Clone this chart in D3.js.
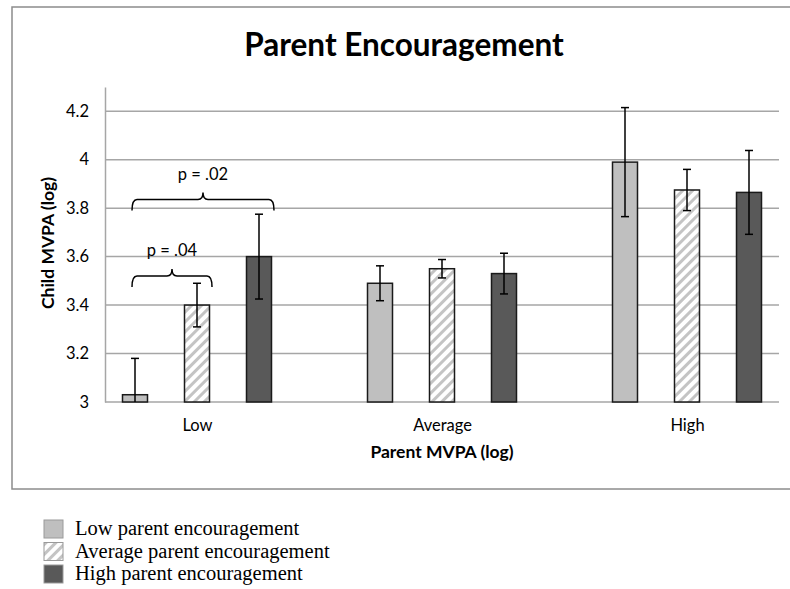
<!DOCTYPE html>
<html>
<head>
<meta charset="utf-8">
<script src="https://cdn.jsdelivr.net/npm/d3@7"></script>
<style>
  body { margin: 0; background: #fff; }
  svg { display: block; }
</style>
</head>
<body>
<svg id="chart" width="790" height="589"></svg>
<script>
// Parent MVPA groups on the x axis
const categories = ['Low', 'Average', 'High'];
// parent encouragement series
const series = ['Low parent encouragement', 'Average parent encouragement', 'High parent encouragement'];
// bar heights (child MVPA, log), one row per series, one entry per category
const means = [
  [3.03, 3.49, 3.99],
  [3.40, 3.55, 3.875],
  [3.60, 3.53, 3.865]
];
// error bar half-widths
const errors = [
  [0.15, 0.072, 0.225],
  [0.09, 0.038, 0.085],
  [0.175, 0.084, 0.173]
];
const yTicks = [3, 3.2, 3.4, 3.6, 3.8, 4, 4.2];
// significance brackets inside the Low group: from series index, to series index, bracket level
const brackets = [
  { from: 0, to: 2, level: 3.79, label: 'p = .02' },
  { from: 0, to: 1, level: 3.475, label: 'p = .04' }
];

const svg = d3.select('#chart');
const fillColors = ['#bfbfbf', 'url(#hatch)', '#595959'];
const sans = 'Lato, "Open Sans", sans-serif';

// hatch for the average series
const defs = svg.append('defs');
const hatch = defs.append('pattern')
  .attr('id', 'hatch')
  .attr('patternUnits', 'userSpaceOnUse')
  .attr('width', 7)
  .attr('height', 7)
  .attr('patternTransform', 'rotate(45)');
hatch.append('rect').attr('width', 7).attr('height', 7).attr('fill', '#fff');
hatch.append('rect').attr('width', 3).attr('height', 7).attr('fill', '#c4c4c4');

// outer chart frame (runs off the right side of the picture)
svg.append('rect')
  .attr('x', 12).attr('y', 7)
  .attr('width', 800).attr('height', 482)
  .attr('fill', 'none')
  .attr('stroke', '#8c8c8c')
  .attr('stroke-width', 1.5);

const plot = { left: 105, right: 779, top: 87, bottom: 402 };

const y = d3.scaleLinear().domain([3, 4.3]).range([plot.bottom, plot.top]);
const x = d3.scalePoint().domain(categories).range([197, 687]);
const xs = d3.scalePoint().domain(d3.range(series.length)).range([-62, 62]);
const barW = 25;

// title
svg.append('text')
  .attr('x', 404).attr('y', 56)
  .attr('text-anchor', 'middle')
  .attr('font-family', sans)
  .attr('font-weight', 'bold')
  .attr('font-size', 31.5)
  .text('Parent Encouragement');

// gridlines
svg.append('g')
  .selectAll('line')
  .data(yTicks)
  .join('line')
  .attr('x1', plot.left).attr('x2', plot.right)
  .attr('y1', d => y(d)).attr('y2', d => y(d))
  .attr('stroke', '#a6a6a6')
  .attr('stroke-width', 1.5);

// y axis
const yAxis = svg.append('g')
  .attr('transform', `translate(${plot.left},0)`)
  .call(d3.axisLeft(y).tickValues(yTicks).tickSize(0).tickPadding(16).tickFormat(d3.format('')));
yAxis.select('.domain').attr('stroke', '#a6a6a6').attr('stroke-width', 1.5);
yAxis.selectAll('text')
  .attr('font-family', sans)
  .attr('font-size', 16.5)
  .attr('fill', '#000');

svg.append('text')
  .attr('transform', 'translate(54,243) rotate(-90)')
  .attr('text-anchor', 'middle')
  .attr('font-family', sans)
  .attr('font-weight', 'bold')
  .attr('font-size', 17.5)
  .text('Child MVPA (log)');

// x labels
const xAxis = svg.append('g')
  .attr('transform', `translate(0,${plot.bottom})`)
  .call(d3.axisBottom(x).tickSize(0).tickPadding(17));
xAxis.select('.domain').remove();
xAxis.selectAll('text')
  .attr('font-family', sans)
  .attr('font-size', 16.5)
  .attr('fill', '#000');

svg.append('text')
  .attr('x', 442).attr('y', 458)
  .attr('text-anchor', 'middle')
  .attr('font-family', sans)
  .attr('font-weight', 'bold')
  .attr('font-size', 17.5)
  .text('Parent MVPA (log)');

// bars + error bars
const cells = [];
series.forEach((s, si) => {
  categories.forEach((c, ci) => {
    cells.push({ si, c, v: means[si][ci], e: errors[si][ci] });
  });
});

const clip = defs.append('clipPath').attr('id', 'plotClip');
clip.append('rect')
  .attr('x', plot.left).attr('y', 0)
  .attr('width', plot.right - plot.left).attr('height', plot.bottom);

const barsG = svg.append('g');
barsG.selectAll('rect')
  .data(cells)
  .join('rect')
  .attr('x', d => x(d.c) + xs(d.si) - barW / 2)
  .attr('y', d => y(d.v))
  .attr('width', barW)
  .attr('height', d => y(3) - y(d.v))
  .attr('fill', d => fillColors[d.si])
  .attr('stroke', '#1a1a1a')
  .attr('stroke-width', 1.5);

const errG = svg.append('g').attr('clip-path', 'url(#plotClip)')
  .attr('stroke', '#000').attr('stroke-width', 1.5);
cells.forEach(d => {
  const cx = x(d.c) + xs(d.si);
  const top = y(d.v + d.e), bot = y(d.v - d.e);
  errG.append('line').attr('x1', cx).attr('x2', cx).attr('y1', top).attr('y2', bot);
  errG.append('line').attr('x1', cx - 4).attr('x2', cx + 4).attr('y1', top).attr('y2', top);
  errG.append('line').attr('x1', cx - 4).attr('x2', cx + 4).attr('y1', bot).attr('y2', bot);
});

// curly brackets
function bracePath(x1, x2, yb) {
  const yh = yb - 11, yp = yb - 18, xm = (x1 + x2) / 2, r = 5;
  return `M${x1},${yb} Q${x1},${yh} ${x1 + r},${yh} L${xm - r},${yh} Q${xm},${yh} ${xm},${yp}` +
    ` Q${xm},${yh} ${xm + r},${yh} L${x2 - r},${yh} Q${x2},${yh} ${x2},${yb}`;
}
const bG = svg.append('g');
brackets.forEach(b => {
  const x1 = x(categories[0]) + xs(b.from) - 3;
  const x2 = x(categories[0]) + xs(b.to) + 15;
  const yb = y(b.level);
  bG.append('path')
    .attr('d', bracePath(x1, x2, yb))
    .attr('fill', 'none')
    .attr('stroke', '#000')
    .attr('stroke-width', 1.5);
  bG.append('text')
    .attr('x', (x1 + x2) / 2)
    .attr('y', yb - 31)
    .attr('text-anchor', 'middle')
    .attr('font-family', sans)
    .attr('font-size', 16.5)
    .text(b.label);
});

// legend
const legend = svg.append('g').attr('transform', 'translate(44,520)');
series.forEach((s, i) => {
  const row = legend.append('g').attr('transform', `translate(0,${i * 22.5})`);
  row.append('rect')
    .attr('width', 19).attr('height', 18)
    .attr('fill', fillColors[i])
    .attr('stroke', '#9a9a9a')
    .attr('stroke-width', 1);
  row.append('text')
    .attr('x', 31).attr('y', 15)
    .attr('font-family', '"Liberation Serif", "Times New Roman", serif')
    .attr('font-size', 20.5)
    .text(s);
});
</script>
</body>
</html>
